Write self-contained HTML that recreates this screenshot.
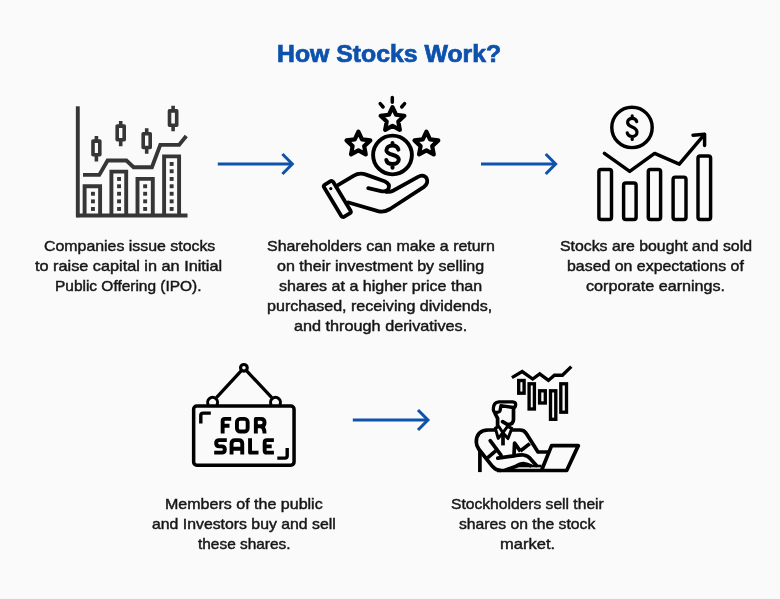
<!DOCTYPE html>
<html lang="en">
<head>
<meta charset="utf-8">
<title>How Stocks Work?</title>
<style>
html,body{margin:0;padding:0;}
body{width:780px;height:599px;background:#fafafa;position:relative;overflow:hidden;font-family:"Liberation Sans",sans-serif;}
.t{position:absolute;white-space:nowrap;font-size:15px;line-height:normal;color:#161616;transform-origin:0 0;-webkit-text-stroke:0.45px #161616;will-change:transform;}
.h{position:absolute;white-space:nowrap;font-weight:bold;line-height:normal;color:#0c52ad;transform-origin:0 0;-webkit-text-stroke:0.7px #0c52ad;will-change:transform;}
svg.g{position:absolute;left:0;top:0;}
</style>
</head>
<body>
<div class="h" style="left:276.90px;top:40.89px;transform:scaleX(1.0785);font-size:23px">How Stocks Work?</div>
<div class="t" style="left:43.80px;top:237.33px;transform:scaleX(1.0592)">Companies issue stocks</div>
<div class="t" style="left:34.90px;top:257.32px;transform:scaleX(1.0840)">to raise capital in an Initial</div>
<div class="t" style="left:55.00px;top:277.32px;transform:scaleX(1.0299)">Public Offering (IPO).</div>
<div class="t" style="left:267.10px;top:237.33px;transform:scaleX(1.0630)">Shareholders can make a return</div>
<div class="t" style="left:276.90px;top:257.32px;transform:scaleX(1.0707)">on their investment by selling</div>
<div class="t" style="left:278.90px;top:277.32px;transform:scaleX(1.0688)">shares at a higher price than</div>
<div class="t" style="left:266.90px;top:297.32px;transform:scaleX(1.0718)">purchased, receiving dividends,</div>
<div class="t" style="left:293.90px;top:317.32px;transform:scaleX(1.0818)">and through derivatives.</div>
<div class="t" style="left:559.60px;top:237.33px;transform:scaleX(1.0561)">Stocks are bought and sold</div>
<div class="t" style="left:566.50px;top:257.32px;transform:scaleX(1.0600)">based on expectations of</div>
<div class="t" style="left:586.10px;top:277.32px;transform:scaleX(1.0763)">corporate earnings.</div>
<div class="t" style="left:164.80px;top:494.82px;transform:scaleX(1.0686)">Members of the public</div>
<div class="t" style="left:152.30px;top:514.82px;transform:scaleX(1.0547)">and Investors buy and sell</div>
<div class="t" style="left:197.70px;top:534.82px;transform:scaleX(1.0273)">these shares.</div>
<div class="t" style="left:450.50px;top:494.82px;transform:scaleX(1.0410)">Stockholders sell their</div>
<div class="t" style="left:458.75px;top:514.82px;transform:scaleX(1.0475)">shares on the stock</div>
<div class="t" style="left:499.75px;top:534.82px;transform:scaleX(1.1008)">market.</div>
<svg class="g" width="780" height="599" viewBox="0 0 780 599" fill="none">
<g stroke="#0e53aa" stroke-width="3.2" stroke-linejoin="miter">
<path d="M217.8 164H291.5"/><path d="M282.4 154L292.3 164L282.4 174" stroke-width="3.05"/>
<path d="M481 164H554.8"/><path d="M545.7 154L555.6 164L545.7 174" stroke-width="3.05"/>
<path d="M352.8 420H427.1"/><path d="M418 410L427.9 420L418 430" stroke-width="3.05"/>
</g>

<g id="i1" stroke="#363636" stroke-width="3.9" stroke-linejoin="miter" stroke-linecap="butt">
<path d="M77.8 106.3V217.2"/>
<path d="M76.1 215.5H187.5"/>
<path d="M84.6 215.5V186.2H100.1V215.5"/>
<path d="M111.4 215.5V171.6H126.2V215.5"/>
<path d="M137.5 215.5V178.9H152.8V215.5"/>
<path d="M164.1 215.5V156.4H179.1V215.5"/>
<path d="M83 174.9H99.3L107.6 160.5H126.4L133.6 167.2H151.9L160.3 144.9H179.1L186.3 136"/>
<g stroke-width="3.6" stroke-linejoin="round">
<rect x="93" y="141.1" width="6.8" height="13.7"/><path d="M96.4 135.9V141M96.4 155V161.6"/>
<rect x="117.2" y="126.1" width="7" height="13.7"/><path d="M120.7 120.9V126M120.7 140V146.3"/>
<rect x="143.2" y="133.8" width="7" height="13.7"/><path d="M146.7 128.2V133.7M146.7 147.6V153.8"/>
<rect x="169.5" y="110.9" width="7.2" height="14.3"/><path d="M173.1 105.8V110.8M173.1 125.3V131.3"/>
</g>
<g stroke="none" fill="#363636">
<rect x="91" y="191.8" width="3.9" height="3.9"/><rect x="91" y="199.4" width="3.9" height="3.9"/><rect x="91" y="207" width="3.9" height="3.9"/>
<rect x="117.1" y="177" width="3.9" height="3.9"/><rect x="117.1" y="184.3" width="3.9" height="3.9"/><rect x="117.1" y="191.8" width="3.9" height="3.9"/><rect x="117.1" y="199.4" width="3.9" height="3.9"/><rect x="117.1" y="207" width="3.9" height="3.9"/>
<rect x="143.2" y="184.3" width="3.9" height="3.9"/><rect x="143.2" y="191.8" width="3.9" height="3.9"/><rect x="143.2" y="199.4" width="3.9" height="3.9"/><rect x="143.2" y="207" width="3.9" height="3.9"/>
<rect x="169.7" y="162" width="3.9" height="3.9"/><rect x="169.7" y="169.3" width="3.9" height="3.9"/><rect x="169.7" y="177" width="3.9" height="3.9"/><rect x="169.7" y="184.3" width="3.9" height="3.9"/><rect x="169.7" y="191.8" width="3.9" height="3.9"/><rect x="169.7" y="199.4" width="3.9" height="3.9"/><rect x="169.7" y="207" width="3.9" height="3.9"/>
</g>
</g>

<g id="i2" stroke="#000" stroke-width="3.8" stroke-linejoin="round" stroke-linecap="round">
<path stroke-width="4.2" d="M392.50 107.20L396.09 114.76L404.39 115.84L398.30 121.59L399.85 129.81L392.50 125.80L385.15 129.81L386.70 121.59L380.61 115.84L388.91 114.76Z"/>
<path stroke-width="4.2" d="M358.40 131.75L361.99 139.31L370.29 140.39L364.20 146.14L365.75 154.36L358.40 150.35L351.05 154.36L352.60 146.14L346.51 140.39L354.81 139.31Z"/>
<path stroke-width="4.2" d="M426.40 131.75L429.99 139.31L438.29 140.39L432.20 146.14L433.75 154.36L426.40 150.35L419.05 154.36L420.60 146.14L414.51 140.39L422.81 139.31Z"/>
<path d="M392.3 97.6V102.2M380.2 103.6L383.1 107M404.6 103.6L401.7 107" stroke-width="3.5"/>
<circle cx="392.5" cy="155" r="19.4" stroke-width="3.9"/>
<path d="M398.4 149.6C397.8 147 395.4 145.5 392.5 145.5C389 145.5 386.4 147.3 386.4 150.2C386.4 156 398.8 153.4 398.8 159.6C398.8 162.4 396 164.1 392.5 164.1C389.4 164.1 386.9 162.8 386.3 160M392.5 142.9V145.3M392.5 164.3V167.8" stroke-width="4"/>
<rect x="-5.3" y="-18.8" width="10.6" height="37.6" rx="2.2" transform="translate(337.3 199) rotate(-31.1)"/>
<circle cx="330.8" cy="188.6" r="1.6" fill="#000" stroke="none"/>
<path d="M337.5 185.3L353.5 175.8Q359.5 172.2 366 174.6L384.5 181.2Q390.5 184 388.6 188.5Q387 192 382 191.3L368.2 188.2"/>
<path d="M386 191.8Q390 192.4 393 190.8L418.5 176.6Q424 174 426.6 178.3Q428.8 183 424 186.8L390 209Q384 212.6 378 211.1L348.5 202.5"/>
</g>

<g id="i3" stroke="#000" stroke-width="3.45" stroke-linejoin="round" stroke-linecap="round">
<rect x="598.9" y="169.4" width="12.6" height="50.1" rx="2.2"/>
<rect x="623.6" y="183" width="12.5" height="36.5" rx="2.2"/>
<rect x="648.3" y="169.4" width="12.3" height="50.1" rx="2.2"/>
<rect x="673.1" y="177.1" width="12.9" height="42.4" rx="2.2"/>
<rect x="698" y="155.9" width="12.6" height="63.6" rx="2.2"/>
<path d="M604.4 153.4L629.7 171.4L654.6 153.4L679.3 164.2L704.3 134.6"/>
<path d="M693 135.2L704.6 134.2L704.6 145.6"/>
<circle cx="632" cy="127.4" r="20.2"/>
<path d="M636.7 121.6C636.2 119.3 634.4 118.3 632.2 118.3C629.6 118.3 627.6 119.8 627.6 122.4C627.6 127.9 637 126.2 637 132.2C637 134.9 634.8 136.5 632.2 136.5C629.6 136.5 627.7 135.3 627.2 132.8M632.2 115.9V118.2M632.2 136.6V139.4" stroke-width="3.2"/>
</g>

<g id="i4" stroke="#000" stroke-width="3.5" stroke-linejoin="round" stroke-linecap="butt">
<rect x="193.65" y="406.05" width="100.4" height="59.1" rx="3.2"/>
<path d="M241.6 370.4L216.4 397.6M246.2 370.4L271.8 397.6" stroke-width="3.3"/>
<circle cx="243.9" cy="367.8" r="3.35" stroke-width="3.1" fill="#fafafa"/>
<path d="M208.45 405A4.95 4.95 0 1 1 216.75 405" stroke-width="3"/>
<path d="M271.35 405A4.95 4.95 0 1 1 279.65 405" stroke-width="3"/>
<g stroke-width="3.4">
<path d="M210.8 413.1H203.2Q200.8 413.1 200.8 415.5V423.4"/>
<path d="M277.3 458.1H284.8Q287.2 458.1 287.2 455.7V448"/>
</g>
<g stroke-width="3.9">
<!-- FOR -->
<path d="M222.65 433.5V421Q222.65 418.85 224.8 418.85H231.2M222.65 425.7H229.5"/>
<rect x="236.95" y="418.85" width="10.7" height="12.7" rx="3.2"/>
<path d="M255.85 433.5V418.85H261Q264.55 418.85 264.55 422.5Q264.55 426.2 261 426.2H255.85M260.4 426.2Q264.4 426.6 264.55 433.5"/>
<!-- SALE -->
<path d="M226.8 440.15H219.3Q216.15 440.15 216.15 443.3Q216.15 446.4 219.3 446.4H221.7Q224.85 446.4 224.85 449.5Q224.85 452.65 221.7 452.65H214.2"/>
<path d="M231.55 454.6V443.7Q231.55 440.15 235.1 440.15H238.7Q242.25 440.15 242.25 443.7V454.6M231.55 448.8H242.25"/>
<path d="M250.05 438.2V452.65H258.5"/>
<path d="M273.9 440.15H266.9Q264.65 440.15 264.65 442.4V450.4Q264.65 452.65 266.9 452.65H273.9M264.65 446.4H271.7"/>
</g>
</g>

<g id="i5" stroke="#000" stroke-width="3.7" stroke-linejoin="round" stroke-linecap="butt">
<!-- chart -->
<g stroke-width="3.35" stroke-linejoin="miter">
<path d="M511.9 377.6L522.2 371.6L532.7 379L539.7 373.8L548.4 380.4L554.4 375.2H562.4L571.3 366.6"/>
<rect x="518.7" y="380.5" width="5.4" height="12.7"/>
<rect x="529.1" y="383.8" width="5.3" height="25.2"/>
<rect x="539.6" y="390.8" width="5.7" height="12.2"/>
<rect x="550.5" y="390.8" width="5.3" height="28.5"/>
<rect x="560.8" y="383.8" width="5.7" height="28.4"/>
</g>
<!-- head -->
<path d="M494.7 412.1Q493 410.9 493.35 408.4Q493.7 402.1 498.9 401.8H512.6Q516 402.1 515.6 405Q515.4 407.4 513.5 407.5L500.9 405.7L500.1 410.4Q499.7 412.1 497.2 412.3Z" stroke-width="3.3"/>
<path d="M513.5 407.5V419.5Q513.4 424.4 507.6 424.6L502.6 421.6" stroke-linecap="round"/>
<path d="M494.6 412.5L497.6 418.4V427"/>
<!-- collar -->
<path d="M499 426.7L495.3 428.1L498.2 438.4L502.9 432.7Z" stroke-width="3"/>
<path d="M507.6 426.3L511.8 428.4L508 438.6L502.9 432.7Z" stroke-width="3"/>
<path d="M503 432.6V445.4"/>
<!-- left shoulder / arm outer -->
<path d="M495.5 430H488Q476.3 430.5 476.3 442Q476.3 446 479 449.5L492.4 466.3Q496 470.5 501 470.5"/>
<path d="M479.9 451V472.1"/>
<path d="M487.5 457.8L496 450.6"/>
<path d="M490.2 440.7L501 455.1" stroke-linecap="round"/>
<!-- forearm -->
<path d="M497.8 458.2L514.5 455.8Q519.5 454.8 523.5 455Q528 455.6 531 459.4L536.4 465.4" stroke-linecap="round"/>
<path d="M505 470.3L515.5 466.6Q520.5 463.6 523.5 463.7Q527.5 464.2 531.5 466.2"/>
<!-- right shoulder / arm -->
<path d="M511.6 430H520Q524.3 430 526.3 433.5L538 452H548"/>
<path d="M520.3 451L529.8 443.6"/>
<path d="M514 454.8L514.6 443.2L520.5 451.4"/>
<!-- laptop -->
<path d="M517 466H541.5" stroke-width="2.6"/>
<path d="M497 470.5H566.7L578.3 445.6H551.6L541.5 470.5"/>
</g>

</svg>
</body>
</html>
